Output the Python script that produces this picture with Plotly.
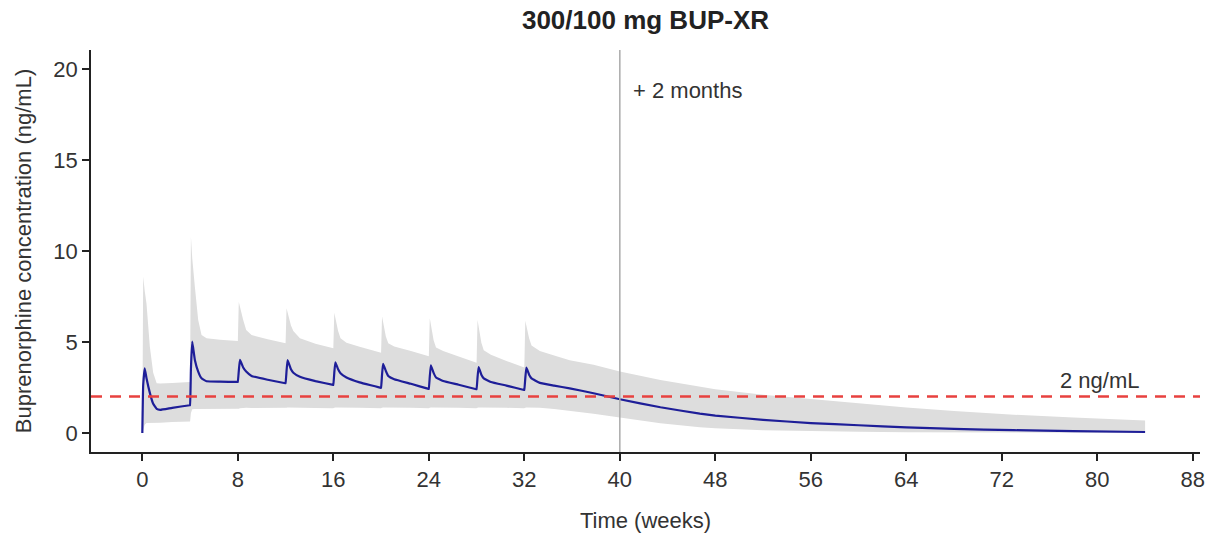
import plotly.graph_objects as go

# ---- Data ----
time_wk = [
    0, 0.07, 0.2, 0.35, 0.63, 0.91, 1.2, 1.5, 2.5, 3.98,
    4.0, 4.07, 4.18, 4.4, 4.68, 4.96, 5.38, 6.5, 7.98,
    8.0, 8.08, 8.18, 8.45, 8.7, 9.15, 10.5, 11.98,
    12.0, 12.08, 12.17, 12.45, 12.65, 13.2, 14.5, 15.98,
    16.0, 16.08, 16.17, 16.4, 16.6, 17.1, 18.2, 19.98,
    20.0, 20.08, 20.17, 20.4, 20.6, 21.1, 22.5, 23.98,
    24.0, 24.08, 24.17, 24.4, 24.6, 25.2, 26.5, 27.98,
    28.0, 28.08, 28.17, 28.4, 28.6, 29.2, 30.5, 31.98,
    32.0, 32.08, 32.17, 32.4, 32.6, 33.3, 34.5, 35.8, 37.8, 40.0,
    43.4, 46.7, 48, 52, 56, 60, 64, 68, 73, 78, 84,
]
median_conc = [
    0, 2.6, 3.55, 3.0, 2.2, 1.6, 1.32, 1.27, 1.38, 1.52,
    1.52, 3.5, 5.02, 4.01, 3.37, 3.0, 2.84, 2.82, 2.8,
    2.8, 3.4, 4.01, 3.6, 3.37, 3.13, 2.92, 2.73,
    2.73, 3.4, 4.0, 3.5, 3.31, 3.09, 2.85, 2.64,
    2.64, 3.3, 3.88, 3.5, 3.28, 3.05, 2.78, 2.48,
    2.48, 3.2, 3.8, 3.4, 3.13, 2.95, 2.7, 2.42,
    2.42, 3.1, 3.72, 3.3, 3.05, 2.85, 2.65, 2.4,
    2.4, 3.05, 3.62, 3.2, 3.0, 2.8, 2.6, 2.36,
    2.36, 3.0, 3.59, 3.2, 3.0, 2.75, 2.6, 2.45, 2.18, 1.85,
    1.41, 1.06, 0.95, 0.72, 0.54, 0.42, 0.3, 0.22, 0.15, 0.1, 0.05,
]
upper_conc = [
    0, 8.6, 7.8, 7.1, 4.74, 3.3, 2.73, 2.72, 2.75, 2.8,
    2.8, 10.79, 9.6, 8.04, 6.2, 5.38, 5.2, 5.12, 5.05,
    5.05, 7.2, 6.9, 6.2, 5.66, 5.38, 5.15, 4.93,
    4.93, 6.85, 6.6, 5.9, 5.6, 5.2, 4.9, 4.65,
    4.65, 6.6, 6.3, 5.6, 5.2, 4.95, 4.74, 4.4,
    4.4, 6.4, 6.1, 5.3, 4.93, 4.75, 4.5, 4.22,
    4.22, 6.3, 6.0, 5.1, 4.7, 4.5, 4.2, 3.85,
    3.85, 6.2, 5.9, 4.95, 4.55, 4.3, 3.95, 3.6,
    3.6, 6.17, 5.9, 5.2, 4.8, 4.5, 4.25, 4.0, 3.74, 3.37,
    2.91, 2.52, 2.4, 2.1, 1.86, 1.6, 1.4, 1.2, 1.0, 0.85, 0.68,
]
lower_conc = [
    0, 0.2, 0.45, 0.55, 0.55, 0.55, 0.55, 0.56, 0.6, 0.62,
    0.62, 1.1, 1.3, 1.32, 1.32, 1.32, 1.32, 1.32, 1.3,
    1.3, 1.33, 1.36, 1.38, 1.38, 1.37, 1.36, 1.35,
    1.35, 1.38, 1.4, 1.4, 1.4, 1.39, 1.37, 1.35,
    1.35, 1.38, 1.4, 1.4, 1.4, 1.4, 1.38, 1.35,
    1.35, 1.38, 1.4, 1.4, 1.4, 1.4, 1.38, 1.35,
    1.35, 1.38, 1.4, 1.4, 1.4, 1.4, 1.38, 1.35,
    1.35, 1.38, 1.4, 1.4, 1.4, 1.4, 1.38, 1.35,
    1.35, 1.38, 1.4, 1.4, 1.4, 1.38, 1.32, 1.22, 1.05, 0.85,
    0.53, 0.31, 0.25, 0.15, 0.09, 0.06, 0.04, 0.03, 0.02, 0.015, 0.01,
]
x_ticks = [0, 8, 16, 24, 32, 40, 48, 56, 64, 72, 80, 88]
y_ticks = [0, 5, 10, 15, 20]
threshold = 2
end_of_dosing_plus_2m = 40

FONT = "Liberation Sans, Arial, sans-serif"
TXT = "#333333"

fig = go.Figure()
fig.add_trace(go.Scatter(x=time_wk, y=lower_conc, mode="lines",
                         line=dict(width=0, color="rgba(0,0,0,0)"),
                         showlegend=False, hoverinfo="skip"))
fig.add_trace(go.Scatter(x=time_wk, y=upper_conc, mode="lines",
                         line=dict(width=0, color="rgba(0,0,0,0)"),
                         fill="tonexty", fillcolor="#dddddd",
                         showlegend=False, hoverinfo="skip"))
fig.add_trace(go.Scatter(x=time_wk, y=median_conc, mode="lines",
                         line=dict(width=2.2, color="#1e1e98", shape="spline", smoothing=0.3),
                         showlegend=False))

# vertical line at +2 months
fig.add_shape(type="line", xref="x", yref="paper",
              x0=end_of_dosing_plus_2m, x1=end_of_dosing_plus_2m, y0=0, y1=1,
              line=dict(color="#aaaaaa", width=1.5), layer="above")
# 2 ng/mL threshold
fig.add_shape(type="line", xref="paper", yref="y",
              x0=0, x1=1, y0=threshold, y1=threshold,
              line=dict(color="#e8413f", width=2.5, dash="11px,8px"), layer="above")

fig.add_annotation(x=end_of_dosing_plus_2m + 0.9, y=18.85, xref="x", yref="y",
                   text="+ 2 months", showarrow=False, xanchor="left", yanchor="middle",
                   font=dict(family=FONT, size=22, color=TXT))
fig.add_annotation(x=80.2, y=2.86, xref="x", yref="y",
                   text="2 ng/mL", showarrow=False, xanchor="center", yanchor="middle",
                   font=dict(family=FONT, size=22, color=TXT))

fig.update_layout(
    width=1209, height=535,
    margin=dict(l=91, r=9, t=50, b=83),
    paper_bgcolor="white", plot_bgcolor="white",
    font=dict(family=FONT, size=22, color=TXT),
    title=dict(text="<b>300/100 mg BUP-XR</b>", x=0.5, xref="paper",
               y=1 - 20 / 535, yanchor="middle",
               font=dict(family=FONT, size=26, color="#222222")),
    showlegend=False,
)
fig.update_xaxes(range=[-4.3, 88.6], tickvals=x_ticks, ticktext=[str(v) for v in x_ticks],
                 showgrid=False, zeroline=False, showline=True, linecolor="#222222",
                 linewidth=1.5, ticks="outside", ticklen=7, tickwidth=1.5, tickcolor="#222222",
                 tickfont=dict(family=FONT, size=22, color=TXT), automargin=False,
                 title=dict(text="Time (weeks)", standoff=21,
                            font=dict(family=FONT, size=22, color=TXT)))
fig.update_yaxes(range=[-1.05, 21.05], tickvals=y_ticks, ticktext=[str(v) for v in y_ticks],
                 showgrid=False, zeroline=False, showline=True, linecolor="#222222",
                 linewidth=1.5, ticks="outside", ticklen=7, tickwidth=1.5, tickcolor="#222222",
                 tickfont=dict(family=FONT, size=22, color=TXT), automargin=False,
                 title=dict(text="Buprenorphine concentration (ng/mL)", standoff=16,
                            font=dict(family=FONT, size=22, color=TXT)))

fig.write_html("out.html", config={"displayModeBar": False},
               post_script="document.body.style.margin='0px';")
